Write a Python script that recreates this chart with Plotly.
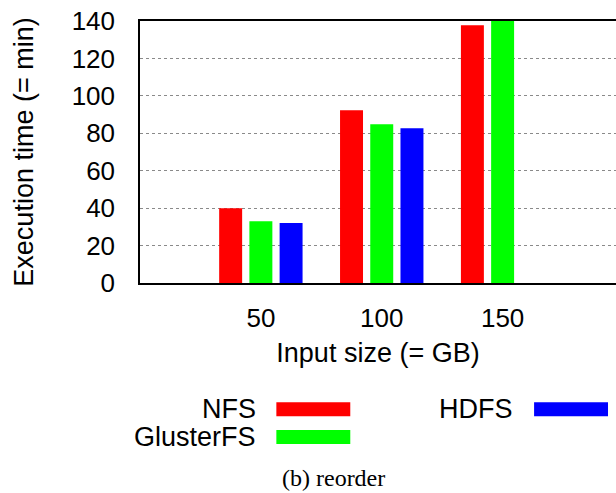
import plotly.graph_objects as go

# Input sizes (GB) and execution times (minutes) per file system
sizes = ["50", "100", "150"]
nfs = [40, 92.3, 137.7]
glusterfs = [33, 84.8, 140]
hdfs = [32, 82.7, None]

series = [("NFS", nfs, "#ff0000"),
          ("GlusterFS", glusterfs, "#00ff00"),
          ("HDFS", hdfs, "#0000ff")]

W, H = 616, 493
L, R, T, B = 139.5, 0, 20.7, 210.3
plot_w, plot_h = W - L - R, H - T - B


def px(x):
    return (x - L) / plot_w


def py(y):
    return (H - B - y) / plot_h


SANS = "Liberation Sans, Arial, Helvetica, sans-serif"

fig = go.Figure()
for name, vals, color in series:
    fig.add_trace(go.Bar(x=sizes, y=vals, name=name, marker_color=color,
                         marker_line_width=0, showlegend=False))

fig.update_layout(
    width=W, height=H,
    margin=dict(l=L, r=R, t=T, b=B, pad=0),
    paper_bgcolor="white", plot_bgcolor="white",
    barmode="group", bargap=0.25, bargroupgap=0.24,
    font=dict(family=SANS, size=26, color="black"),
)
fig.update_xaxes(
    type="category", range=[-1, (W - 260.5) / 121],
    showgrid=False, zeroline=False,
    showline=True, linecolor="black", linewidth=1.5, mirror=True,
    ticks="", ticklabelstandoff=11,
    tickfont=dict(size=26),
    title=dict(text="Input size (= GB)", font=dict(size=27), standoff=11),
)
fig.update_yaxes(
    range=[0, 140], tickvals=[0, 20, 40, 60, 80, 100, 120, 140],
    showgrid=True, gridcolor="#8a8a8a", griddash="dot", gridwidth=1,
    zeroline=False, showline=True, linecolor="black", linewidth=1.5,
    ticks="", ticklabelstandoff=18, tickfont=dict(size=26),
    title=dict(text="Execution time (= min)", font=dict(size=27), standoff=30),
)

# Legend: right-aligned labels with colour swatches to their right
legend_items = [("NFS", "#ff0000", 258, 276, 409),
                ("GlusterFS", "#00ff00", 258, 276, 436.7),
                ("HDFS", "#0000ff", 515, 534, 409)]
for label, color, text_right, sw_left, yc in legend_items:
    fig.add_annotation(text=label, xref="paper", yref="paper",
                       x=px(text_right), y=py(yc), xanchor="right",
                       yanchor="middle", showarrow=False,
                       font=dict(family=SANS, size=27))
    fig.add_shape(type="rect", xref="paper", yref="paper",
                  x0=px(sw_left), x1=px(sw_left + 74),
                  y0=py(yc - 7), y1=py(yc + 7),
                  fillcolor=color, line_width=0)

fig.add_annotation(text="(b) reorder", xref="paper", yref="paper",
                   x=px(333), y=py(478), xanchor="center", yanchor="middle",
                   showarrow=False,
                   font=dict(family="Liberation Serif, DejaVu Serif, serif",
                             size=24))

fig.write_html("out.html")
